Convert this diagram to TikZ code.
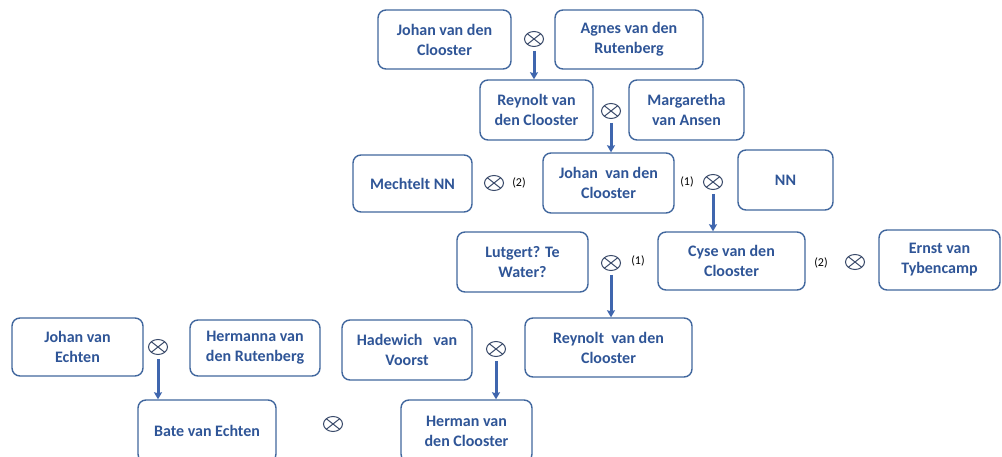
\documentclass[tikz,border=0pt]{standalone}
\usepackage{fontspec}
\setmainfont{Carlito}
\usetikzlibrary{arrows.meta,shapes.geometric}
\definecolor{txt}{HTML}{2F5597}
\definecolor{bord}{HTML}{41679E}
\definecolor{arrc}{HTML}{3F66AE}
\definecolor{msym}{HTML}{3A4A6A}
\tikzset{
  person/.style n args={2}{draw=bord, line width=1.4pt, rounded corners=8pt,
    minimum width=#1, minimum height=#2, align=center, inner sep=0pt,
    font=\fontsize{16}{20}\selectfont\bfseries, text=txt},
  marr/.style={ellipse, draw=msym, line width=1pt, minimum width=19pt,
    minimum height=15pt, inner sep=0pt,
    path picture={\draw[msym, line width=1pt]
      (path picture bounding box.north west) -- (path picture bounding box.south east)
      (path picture bounding box.north east) -- (path picture bounding box.south west);}},
  ordlab/.style={font=\fontsize{12}{14}\selectfont, text=black, inner sep=0pt},
  desc/.style={draw=arrc, line width=3pt, shorten <=4pt,
    -{Stealth[length=7pt,width=8pt,inset=1pt]}}
}
\begin{document}
\begin{tikzpicture}[x=1pt,y=-1pt]
\useasboundingbox[fill=white] (0,0) rectangle (1002,457);
% generation 1
\node[person={133pt}{59pt}] (johan1) at (444.5,39.5) {Johan van den\\Clooster};
\node[person={148pt}{59pt}] (agnes) at (629,39.5) {Agnes van den\\Rutenberg};
\node[marr] (m1) at (534,39) {};
% generation 2
\node[person={113pt}{60pt}] (reynolt1) at (536.5,110) {Reynolt van\\den Clooster};
\node[person={115pt}{60pt}] (margaretha) at (686.5,110) {Margaretha\\van Ansen};
\node[marr] (m2) at (611,111) {};
% generation 3
\node[person={119pt}{57pt}] (mechtelt) at (412.5,183.5) {Mechtelt NN};
\node[marr] (m3) at (494,183) {};
\node[ordlab] (l3) at (519,183) {(2)};
\node[person={131pt}{60pt}] (johan2) at (608.5,183) {Johan\ \ van den\\Clooster};
\node[ordlab] (l4) at (687,182) {(1)};
\node[marr] (m4) at (713,182) {};
\node[person={95pt}{60pt}] (nn) at (785.5,180) {NN};
% generation 4
\node[person={131pt}{60pt}] (lutgert) at (522.5,262) {Lutgert? Te\\Water?};
\node[marr] (m5) at (611,263) {};
\node[ordlab] (l5) at (638,261) {(1)};
\node[person={147pt}{58pt}] (cyse) at (731.5,261) {Cyse van den\\Clooster};
\node[ordlab] (l6) at (821,263) {(2)};
\node[marr] (m6) at (855,262) {};
\node[person={121pt}{60pt}] (ernst) at (939.5,260) {Ernst van\\Tybencamp};
% generation 5
\node[person={131pt}{58pt}] (johanE) at (77.5,347) {Johan van\\Echten};
\node[marr] (m7) at (158,347) {};
\node[person={130pt}{56pt}] (hermanna) at (255,348) {Hermanna van\\den Rutenberg};
\node[person={130pt}{60pt}] (hadewich) at (407,350) {Hadewich\ \ \ van\\Voorst};
\node[marr] (m8) at (496,349) {};
\node[person={167pt}{59pt}] (reynolt2) at (608.5,347.5) {Reynolt\ \ van den\\Clooster};
% generation 6
\node[person={138pt}{62pt}] (bate) at (207,431) {Bate van Echten};
\node[marr] (m9) at (333,424) {};
\node[person={131pt}{62pt}] (herman) at (466.5,431) {Herman van\\den Clooster};
% descent arrows
\draw[desc] (m1.south) -- (m1.south |- reynolt1.north);
\draw[desc] (m2.south) -- (m2.south |- johan2.north);
\draw[desc] (m4.south) -- (m4.south |- cyse.north);
\draw[desc] (m5.south) -- (m5.south |- reynolt2.north);
\draw[desc] (m7.south) -- (m7.south |- bate.north);
\draw[desc] (m8.south) -- (m8.south |- herman.north);
\end{tikzpicture}
\end{document}
